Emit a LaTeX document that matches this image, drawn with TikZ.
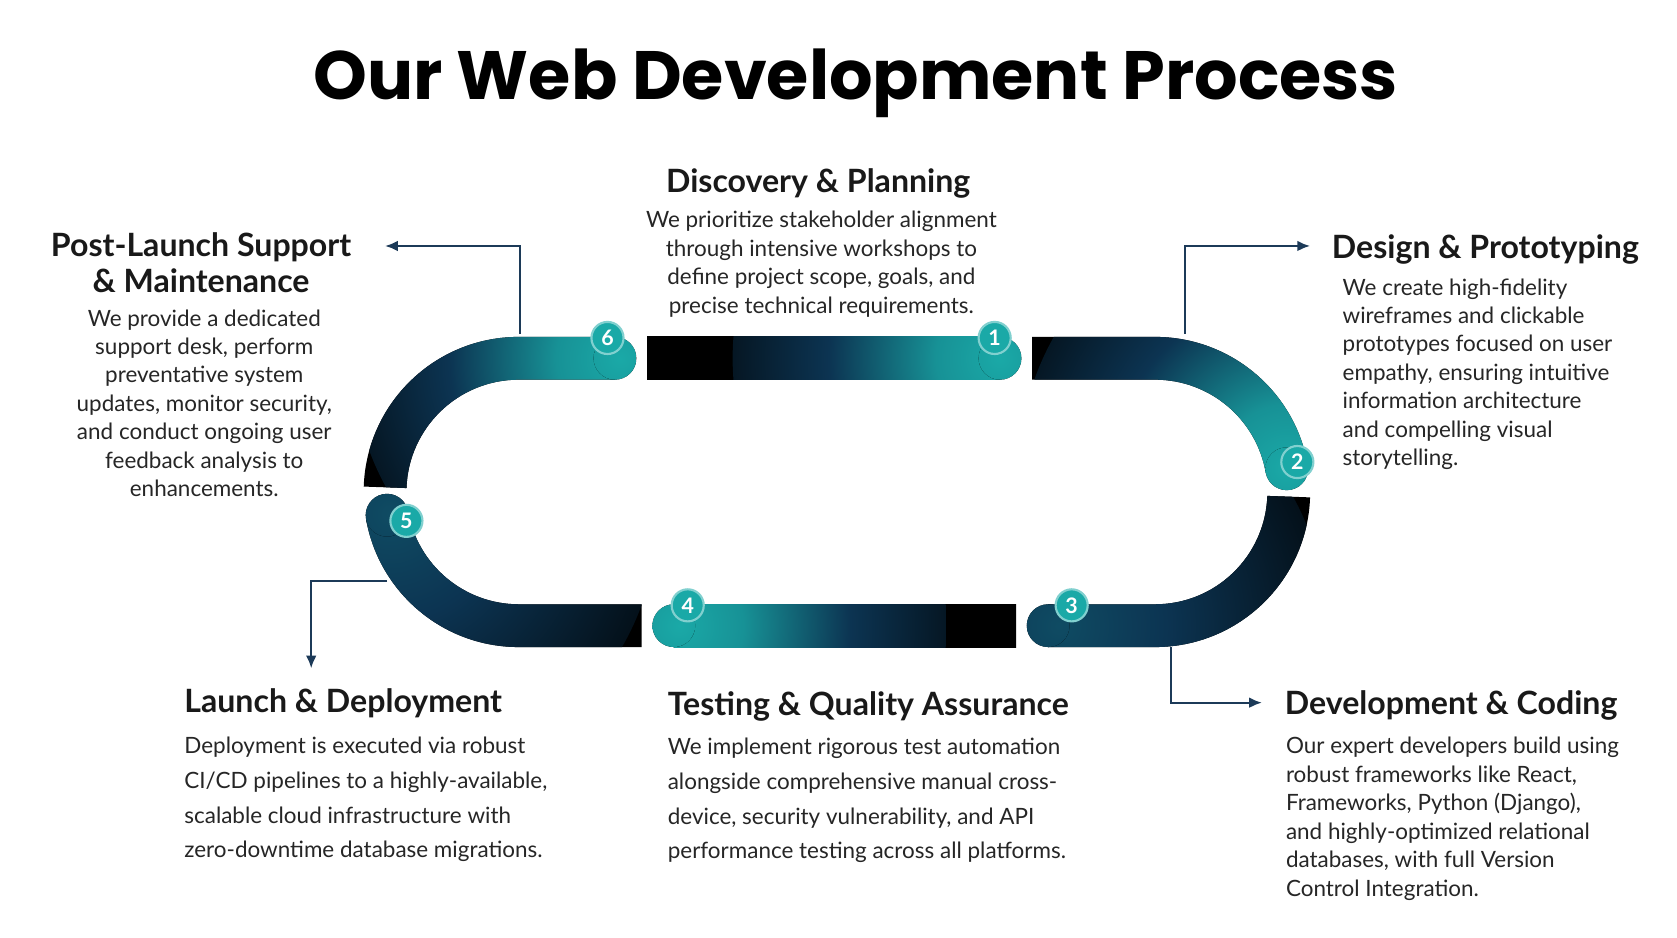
\documentclass[tikz,border=0pt]{standalone}
\usepackage{fontspec}
\setmainfont{Lato}
\newfontfamily\titlefont{Poppins}
\usetikzlibrary{arrows.meta}
\definecolor{tealc}{HTML}{1AA9A7}
\definecolor{navyc}{HTML}{0C3452}
\definecolor{linec}{HTML}{1C3A58}
\pgfdeclareradialshading{glowT}{\pgfpoint{0bp}{0bp}}{color(0bp)=(tealc);color(6bp)=(tealc!80!navyc);color(16bp)=(navyc);color(32bp)=(black);color(50bp)=(black)}
\pgfdeclareradialshading{glowN}{\pgfpoint{0bp}{0bp}}{color(0bp)=(navyc!80!tealc);color(10bp)=(navyc);color(32bp)=(black);color(50bp)=(black)}
\begin{document}
\begin{tikzpicture}[x=0.5pt,y=-0.5pt,
  badge/.style={circle,fill=tealc,draw=tealc!55!white,line width=1pt,inner sep=0pt,minimum size=15pt,text=white,font=\bfseries\fontsize{10}{12}\selectfont},
  head/.style={font=\bfseries\fontsize{15}{17}\selectfont,text=black!90,inner sep=0pt},
  body/.style={font=\fontsize{10.5}{13.3}\selectfont,text=black!85,inner sep=0pt},
  bodyw/.style={font=\fontsize{10.5}{16.2}\selectfont,text=black!85,inner sep=0pt},
  conn/.style={draw=linec,line width=1.1pt,-{Latex[length=6pt,width=5pt]}}]
\useasboundingbox[fill=white] (0,0) rectangle (1568,877);
\node[font=\titlefont\bfseries\fontsize{32}{40}\selectfont] (title) at (800,78) {Our Web Development Process};
% helper: each piece in its own clip
\newcommand\piece[3]{\begin{scope}\clip #1; \fill[black] (0,0) rectangle (1568,877); \shade[shading=#2] #3 circle (250); \end{scope}}
% segment 6
\piece{(485,460) ++(182:145) arc[start angle=182,end angle=270,radius=145] -- (575,315) -- (575,355) -- (485,355) arc[start angle=270,end angle=182,radius=105] -- cycle}{glowT}{(580,335)}
\piece{(575,335) circle (20)}{glowT}{(580,335)}
% segment 1
\piece{(605,315) rectangle (935,355)}{glowT}{(935,335)}
\piece{(935,335) circle (20)}{glowT}{(935,335)}
% segment 2
\piece{(965,315) -- (1080,315) arc[start angle=270,end angle=350,radius=145] -- ++(350:-40) arc[start angle=350,end angle=270,radius=105] -- (965,355) -- cycle}{glowT}{(1203,438)}
\piece{(1080,460) ++(350:125) circle (20)}{glowT}{(1203,438)}
% segment 3
\piece{(1080,460) ++(2:145) arc[start angle=2,end angle=90,radius=145] -- (980,605) -- (980,565) -- (1080,565) arc[start angle=90,end angle=2,radius=105] -- cycle}{glowN}{(990,585)}
\piece{(980,585) circle (20)}{glowN}{(990,585)}
% segment 4
\piece{(630,565) rectangle (950,605)}{glowT}{(635,585)}
\piece{(630,585) circle (20)}{glowT}{(635,585)}
% segment 5
\piece{(600,565) -- (485,565) arc[start angle=90,end angle=170,radius=105] -- ++(170:40) arc[start angle=170,end angle=90,radius=145] -- (600,605) -- cycle}{glowN}{(365,480)}
\piece{(485,460) ++(170:125) circle (20)}{glowN}{(365,480)}
% badges
\node[badge] (b1) at (930,316) {1};
\node[badge] (b2) at (1213,432) {2};
\node[badge] (b3) at (1002,566) {3};
\node[badge] (b4) at (643,566) {4};
\node[badge] (b5) at (380,487) {5};
\node[badge] (b6) at (568,316) {6};
% texts
\node[head,anchor=center] (h1) at (765,172) {Discovery \& Planning};
\node[body,anchor=north,align=center] (t1) at (768,197) {We prioritize stakeholder alignment\\through intensive workshops to\\define project scope, goals, and\\precise technical requirements.};
\node[head,anchor=west] (h2) at (1245,233) {Design \& Prototyping};
\node[body,anchor=north west,align=left] (t2) at (1255,260) {We create high-fidelity\\wireframes and clickable\\prototypes focused on user\\empathy, ensuring intuitive\\information architecture\\and compelling visual\\storytelling.};
\node[head,anchor=north,align=center] (h6) at (188,217) {Post-Launch Support\\\& Maintenance};
\node[body,anchor=north,align=center] (t6) at (191,289) {We provide a dedicated\\support desk, perform\\preventative system\\updates, monitor security,\\and conduct ongoing user\\feedback analysis to\\enhancements.};
\node[head,anchor=west] (h5) at (172,658) {Launch \& Deployment};
\node[bodyw,anchor=north west,align=left] (t5) at (172,689) {Deployment is executed via robust\\CI/CD pipelines to a highly-available,\\scalable cloud infrastructure with\\zero-downtime database migrations.};
\node[head,anchor=west] (h4) at (624,661) {Testing \& Quality Assurance};
\node[bodyw,anchor=north west,align=left] (t4) at (624,690) {We implement rigorous test automation\\alongside comprehensive manual cross-\\device, security vulnerability, and API\\performance testing across all platforms.};
\node[head,anchor=west] (h3) at (1201,660) {Development \& Coding};
\node[body,anchor=north west,align=left] (t3) at (1202,689) {Our expert developers build using\\robust frameworks like React,\\Frameworks, Python (Django),\\and highly-optimized relational\\databases, with full Version\\Control Integration.};
% connectors
\coordinate (c6a) at (486,312);
\coordinate (c6b) at (360,230);
\draw[conn] (c6a) |- (c6b);
\coordinate (c2a) at (1108,312);
\coordinate (c2b) at (1225,230);
\draw[conn] (c2a) |- (c2b);
\coordinate (c3a) at (1095,605);
\coordinate (c3b) at (1180,657);
\draw[conn] (c3a) |- (c3b);
\coordinate (c5a) at (362,543);
\coordinate (c5b) at (291,625);
\draw[conn] (c5a) -| (c5b);
\end{tikzpicture}
\end{document}
